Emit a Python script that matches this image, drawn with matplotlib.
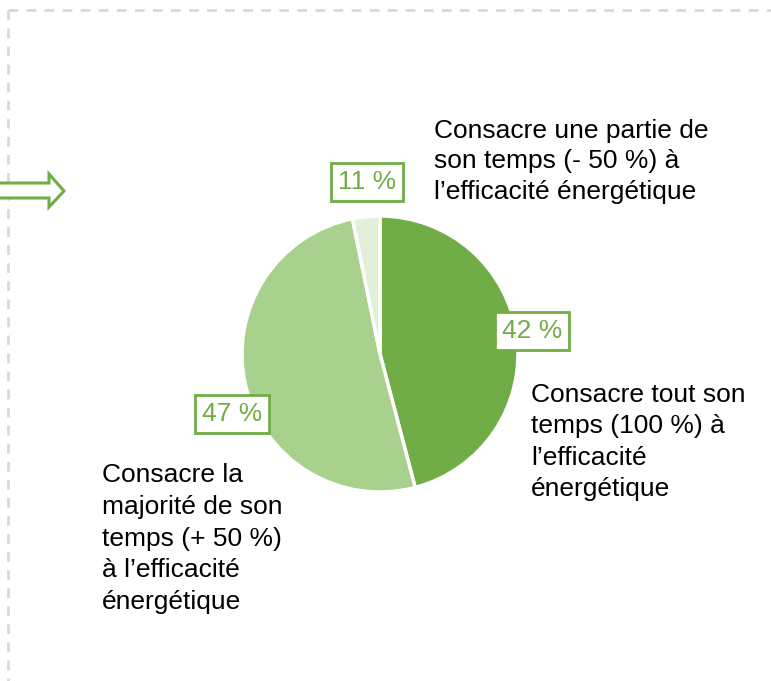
import matplotlib.pyplot as plt
from matplotlib.patches import Polygon

plt.rcParams['font.family'] = ['Liberation Sans', 'DejaVu Sans']

# slice sizes as drawn (angles) and the printed labels
categories = [
    "Consacre tout son\ntemps (100 %) à\nl’efficacité\nénergétique",
    "Consacre la\nmajorité de son\ntemps (+ 50 %)\nà l’efficacité\nénergétique",
    "Consacre une partie de\nson temps (- 50 %) à\nl’efficacité énergétique",
]
slice_sizes = [45.9, 50.9, 3.2]
pct_labels = ["42 %", "47 %", "11 %"]
colors = ["#70ad47", "#a9d18e", "#e2f0d9"]
green = "#70ad47"

W, H = 771, 681
fig = plt.figure(figsize=(W / 100, H / 100), dpi=100)
ax = fig.add_axes([0, 0, 1, 1])
ax.set_aspect('equal')
ax.axis('off')

def Y(y):
    return H - y

# dashed frame (top and left edges)
ax.plot([8, W], [Y(10), Y(10)], color="#d9d9d9", lw=2, dashes=(3.5, 3))
ax.plot([8, 8], [Y(10), 0], color="#d9d9d9", lw=2, dashes=(3.5, 3))

# outlined arrow on the left
arrow = Polygon([(-5, Y(183)), (49, Y(183)), (49, Y(174)), (64, Y(191)),
                 (49, Y(207)), (49, Y(198)), (-5, Y(198))],
                closed=True, facecolor="white", edgecolor=green, lw=2.2, zorder=3)
ax.add_patch(arrow)

ax.pie(slice_sizes, colors=colors, startangle=90, counterclock=False,
       center=(380, Y(354)), radius=138,
       wedgeprops=dict(edgecolor="white", linewidth=2.5))
ax.set_xlim(0, W)
ax.set_ylim(0, H)

# percentage boxes
pct_pos = [(532, 331), (232, 414), (367, 182)]
for lab, (x, y) in zip(pct_labels, pct_pos):
    ax.text(x, Y(y), lab, ha="center", va="center", fontsize=19, color=green,
            bbox=dict(boxstyle="square,pad=0.27", facecolor="white",
                      edgecolor=green, linewidth=2))

# category texts
cat_pos = [(531, 383), (102, 463), (434, 119)]
spacing = [1.39, 1.41, 1.33]
for lab, (x, y), ls in zip(categories, cat_pos, spacing):
    ax.text(x, Y(y), lab, ha="left", va="top", fontsize=19, color="black",
            linespacing=ls)

fig.savefig("out.png", dpi=100)
